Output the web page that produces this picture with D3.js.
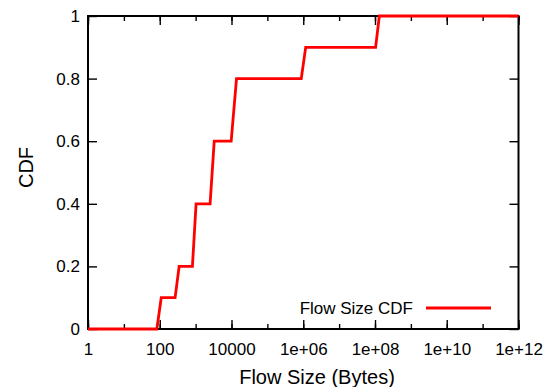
<!DOCTYPE html>
<html><head><meta charset="utf-8">
<script src="https://cdn.jsdelivr.net/npm/d3@7"></script>
<style>body{margin:0;background:#fff}svg{display:block}text{font-family:"Liberation Sans",Arial,Helvetica,sans-serif;fill:#000}</style>
</head><body>
<script>
const flowSize = [1, 83, 110, 268, 347, 814, 1030, 2530, 3300, 9800, 13800, 880000, 1170000, 1.04e8, 1.32e8, 1e12];
const cdf      = [0, 0, 0.1, 0.1, 0.2, 0.2, 0.4, 0.4, 0.6, 0.6, 0.8, 0.8, 0.9, 0.9, 1, 1];
const xTickValues = [1, 1e2, 1e4, 1e6, 1e8, 1e10, 1e12];
const xTickLabels = ["1", "100", "10000", "1e+06", "1e+08", "1e+10", "1e+12"];
const yTickValues = [0, 0.2, 0.4, 0.6, 0.8, 1];
const yTickLabels = ["0", "0.2", "0.4", "0.6", "0.8", "1"];
const seriesName = "Flow Size CDF";

const W = 550, H = 387;
const m = {left: 88, right: 31.5, top: 16, bottom: 58};
const svg = d3.select("body").append("svg").attr("width", W).attr("height", H);
const x = d3.scaleLog().domain([1, 1e12]).range([m.left, W - m.right]);
const y = d3.scaleLinear().domain([0, 1]).range([H - m.bottom, m.top]);
const minor = d3.range(0, 13).map(e => Math.pow(10, e));

const g = svg.append("g");
function styleAxis(sel){
  sel.select(".domain").remove();
  sel.selectAll("line").attr("stroke", "#000").attr("stroke-width", 1.4);
  sel.selectAll("text").attr("font-size", 17);
}
// bottom minor/major ticks (inward)
g.append("g").attr("transform", `translate(0,${y(0)})`)
  .call(d3.axisBottom(x).tickValues(minor).tickSize(-5).tickFormat(""))
  .call(styleAxis);
g.append("g").attr("transform", `translate(0,${y(0)})`)
  .call(d3.axisBottom(x).tickValues(xTickValues).tickSize(-9).tickPadding(14)
    .tickFormat((d, i) => xTickLabels[i]))
  .call(styleAxis);
// top mirror ticks
g.append("g").attr("transform", `translate(0,${y(1)})`)
  .call(d3.axisTop(x).tickValues(minor).tickSize(-5).tickFormat(""))
  .call(styleAxis);
g.append("g").attr("transform", `translate(0,${y(1)})`)
  .call(d3.axisTop(x).tickValues(xTickValues).tickSize(-9).tickFormat(""))
  .call(styleAxis);
// left
g.append("g").attr("transform", `translate(${x(1)},0)`)
  .call(d3.axisLeft(y).tickValues(yTickValues).tickSize(-9).tickPadding(8)
    .tickFormat((d, i) => yTickLabels[i]))
  .call(styleAxis);
// right
g.append("g").attr("transform", `translate(${x(1e12)},0)`)
  .call(d3.axisRight(y).tickValues(yTickValues).tickSize(-9).tickFormat(""))
  .call(styleAxis);

// frame
svg.append("rect").attr("x", x(1)).attr("y", y(1))
  .attr("width", x(1e12) - x(1)).attr("height", y(0) - y(1))
  .attr("fill", "none").attr("stroke", "#000").attr("stroke-width", 2);

// data line
const pts = flowSize.map((v, i) => [v, cdf[i]]);
svg.append("path").datum(pts)
  .attr("fill", "none").attr("stroke", "#ff0000").attr("stroke-width", 2.8)
  .attr("stroke-linejoin", "miter")
  .attr("d", d3.line().x(d => x(d[0])).y(d => y(d[1])));

// legend
svg.append("text").attr("x", 413).attr("y", 314).attr("text-anchor", "end")
  .attr("font-size", 17).text(seriesName);
svg.append("line").attr("x1", 426).attr("x2", 491).attr("y1", 308).attr("y2", 308)
  .attr("stroke", "#ff0000").attr("stroke-width", 2.8);

// axis titles
svg.append("text").attr("x", 317).attr("y", 384).attr("text-anchor", "middle")
  .attr("font-size", 20).text("Flow Size (Bytes)");
svg.append("text").attr("transform", "translate(33,167.5) rotate(-90)")
  .attr("text-anchor", "middle").attr("font-size", 20).text("CDF");
</script>
</body></html>
